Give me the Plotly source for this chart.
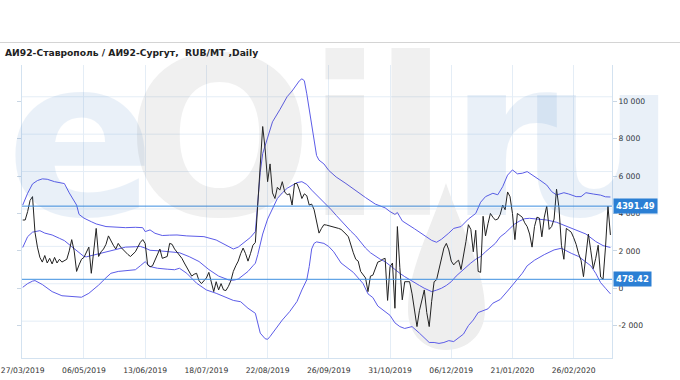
import pandas as pd
import plotly.graph_objects as go

title = "АИ92-Ставрополь / АИ92-Сургут,  RUB/MT ,Daily"

# price (black line), one value per trading day starting 27/03/2019
price = [3650, 3650, 4100, 4700, 4900, 3000, 2200, 1650, 1400, 1750,
         1350, 1600, 1300, 1650, 1350, 1550, 1400, 1500, 1550, 2000,
         2600, 2000, 900, 1250, 1550, 1650, 1950, 2200, 800, 1900,
         3200, 1700, 1950, 2100, 2350, 2800, 2500, 2300, 2100, 2400,
         2200, 2050, 1950, 1800, 1700, 1850, 1950, 2200, 2450, 2600,
         2400, 1250, 1150, 1200, 1500, 1900, 2100, 1600, 1650, 1700,
         2400, 2350, 2100, 1950, 1800, 1600, 1350, 1100, 850, 650,
         750, 800, 400, 250, 400, 550, 850, 350, -180, 350,
         -90, 250, -90, -120, 100, 400, 900, 1200, 1450, 1850,
         2150, 1850, 1450, 1850, 2300, 2450, 4350, 6800, 8650, 7450,
         5700, 6650, 5100, 4800, 5400, 5250, 5700, 5150, 5000, 5050,
         4450, 5600, 5600, 5250, 4800, 5050, 4950, 4450, 4500, 4200,
         3550, 2950, 3200, 3400, 3380, 3350, 3300, 3300, 3250, 3200,
         3150, 3050, 2900, 2750, 2250, 1900, 1550, 1450, 900, 750,
         550, -180, 650, 700, 1100, 1400, 1450, 1550, 1600, -650,
         1150, 1350, -1070, 3300, 1100, -620, 350, 350, 350, -300,
         -1160, -2050, -1200, -620, -90, -1300, -2050, -700, 350, 450,
         1000, 1600, 2150, 2400, 2050, 1450, 1250, 1400, 1500, 1000,
         1650, 2500, 3400, 3150, 1950, 3100, 900, 850, 3850, 2800,
         3450, 4000, 3800, 3650, 3700, 3950, 4450, 4200, 5150, 4900,
         4000, 2600, 4000, 3900, 3800, 3500, 3300, 2900, 2200, 3300,
         3800, 3750, 2750, 3800, 4400, 3150, 3300, 3700, 5300, 4300,
         2300, 1550, 3200, 3100, 3000, 2700, 2350, 1850, 1500, 620,
         1850, 2900, 2000, 1050, 1600, 2300, 600, 478.42, 2200, 4391.49,
         2850]

# bands, read at sampled trading-day numbers
upper_idx = [0, 2, 4, 6, 8, 10, 13, 16, 17, 19, 20, 22, 23, 25, 28, 30, 34, 38, 42, 46,
             49, 50, 52, 54, 57, 60, 63, 67, 74, 79, 83, 86, 88, 90, 93, 95, 96, 97, 98, 100,
             102, 105, 108, 110, 113, 114, 115, 116, 117, 118, 119, 120, 121, 123, 125, 128, 132, 136, 140, 144,
             148, 150, 152, 153, 155, 160, 164, 167, 169, 171, 174, 176, 179, 182, 185, 187, 189, 192, 194, 196,
             198, 200, 202, 204, 206, 208, 211, 214, 216, 218, 220, 221, 223, 226, 228, 230, 233, 236, 238, 240]
upper = [4450, 5080, 5580, 5760, 5850, 5830, 5700, 5650, 5600, 5100, 4900, 4450, 3950, 3750, 3560, 3440, 3300, 3260, 3240, 3260,
         3240, 3030, 3120, 2940, 2820, 2840, 2850, 2800, 2760, 2580, 2320, 2100, 2200, 2420, 2720, 3030, 4600, 6200, 7200, 8100,
         8900, 9550, 10250, 10550, 11100, 11200, 11100, 10400, 9600, 8600, 7800, 7100, 6850, 6650, 6300, 5950, 5600, 5200, 4850, 4500,
         4300, 4100, 3950, 4050, 3600, 3180, 2800, 2560, 2460, 2620, 2950, 3200, 3300, 3700, 4000, 4600, 4900, 5080, 5000, 5430,
         6050, 6330, 6120, 6150, 6240, 6080, 5800, 5520, 5170, 4990, 5080, 5110, 5040, 4900, 4900, 5110, 5040, 4980, 4890, 4880]

middle_idx = [0, 2, 4, 7, 9, 12, 15, 17, 20, 23, 25, 26, 29, 32, 35, 38, 42, 46, 48, 50,
              52, 56, 59, 62, 64, 68, 72, 76, 80, 84, 86, 88, 90, 92, 94, 95, 96, 98, 100, 102,
              104, 106, 108, 110, 112, 114, 116, 118, 120, 122, 124, 126, 128, 130, 132, 134, 136, 138, 140, 142,
              144, 146, 148, 150, 152, 154, 156, 158, 160, 162, 164, 166, 167, 169, 171, 173, 175, 177, 179, 181,
              183, 185, 187, 189, 191, 193, 195, 197, 199, 201, 203, 205, 207, 210, 214, 218, 222, 226, 230, 234,
              237, 240]
middle = [2180, 2760, 3000, 3080, 2950, 2850, 2670, 2550, 2225, 1900, 1700, 1680, 1780, 1880, 2000, 2100, 2200, 2220, 2240, 2150,
          2030, 2000, 1950, 1920, 1900, 1690, 1430, 1000, 650, 450, 430, 490, 700, 900, 1200, 1340, 1800, 2900, 3700, 4300,
          4800, 5100, 5350, 5500, 5650, 5700, 5550, 5250, 5000, 4750, 4500, 4200, 3900, 3600, 3350, 3050, 2800, 2450, 2150, 1900,
          1700, 1550, 1420, 1200, 980, 800, 620, 450, 290, 150, 0, -150, -180, -100, 0, 150, 350, 650, 900, 1150,
          1350, 1550, 1700, 1950, 2150, 2400, 2750, 2950, 3200, 3450, 3600, 3720, 3740, 3700, 3650, 3530, 3320, 3120, 2900, 2500,
          2280, 2180]

lower_idx = [0, 2, 4, 5, 8, 12, 16, 20, 24, 27, 31, 34, 36, 39, 43, 46, 48, 50, 52, 55,
             59, 62, 64, 67, 71, 75, 79, 82, 86, 89, 92, 95, 96, 97, 99, 100, 101, 104, 106, 109,
             112, 114, 116, 117, 118, 119, 120, 123, 125, 127, 130, 132, 135, 137, 139, 141, 143, 145, 147, 150,
             152, 154, 156, 159, 162, 164, 166, 168, 170, 172, 174, 176, 178, 180, 182, 184, 186, 188, 190, 192,
             195, 198, 201, 204, 206, 209, 213, 217, 220, 222, 224, 227, 229, 232, 234, 236, 238, 240]
lower = [50, 250, 380, 410, 200, -180, -400, -420, -480, -270, 170, 560, 800, 900, 950, 990, 1200, 1420, 1160, 1070,
         1020, 990, 1070, 800, 270, -90, -270, -450, -650, -720, -1070, -1340, -1870, -2400, -2700, -2730, -2580, -2050, -1700, -1250,
         -710, -90, 450, 1160, 2100, 2400, 2480, 2400, 2230, 1950, 1350, 1150, 850, 550, 250, -300, -500, -950, -1150, -1450,
         -1850, -2050, -2150, -2050, -2400, -2650, -2900, -2900, -2950, -2900, -2800, -2850, -2650, -2450, -2000, -1700, -1300, -1200, -1100, -800,
         -600, -150, 350, 800, 1200, 1500, 1800, 2050, 2140, 2000, 1870, 1700, 1500, 1200, 800, 300, 0, -300]

levels = [4391.49, 478.42]
y_ticks = [-2000, 0, 2000, 4000, 6000, 8000, 10000]
tick_every = 25

holidays = ["2019-05-01", "2019-05-02", "2019-05-03", "2019-05-09", "2019-05-10",
            "2019-06-12", "2019-11-04", "2019-12-31", "2020-01-01", "2020-01-02",
            "2020-01-03", "2020-01-06", "2020-01-07", "2020-01-08", "2020-02-24",
            "2020-03-09"]

days = [d for d in pd.bdate_range("2019-03-27", "2020-06-30")
        if d.strftime("%Y-%m-%d") not in holidays][:len(price)]
dates = [d.strftime("%Y-%m-%d") for d in days]

# ---- layout geometry (pixels) ----
W, H = 680, 380
L, R, T, B = 22, 68, 65, 22
PW, PH = W - L - R, H - T - B
Y_RANGE = [-3730, 11940]


def px(x):
    return (x - L) / PW


def py(y):
    return (H - B - y) / PH


BAND = "rgb(92,92,232)"
LEVEL = "#3d8fe0"
BOX = "#2b7fd4"
GRID = "#e4edf6"
FRAME = "#d3e2f0"
TXT = "#333333"
FONT = "DejaVu Sans"

fig = go.Figure()

for idx, vals in [(upper_idx, upper), (middle_idx, middle), (lower_idx, lower)]:
    fig.add_trace(go.Scatter(x=[dates[i] for i in idx], y=vals, mode="lines",
                             line=dict(color=BAND, width=1), hoverinfo="skip",
                             showlegend=False))

fig.add_trace(go.Scatter(x=dates, y=price, mode="lines",
                         line=dict(color="rgb(34,34,34)", width=1),
                         showlegend=False))

shapes = []
annotations = []

# horizontal grid: drawn a few pixels above each tick, as in the source chart
units_per_px = (Y_RANGE[1] - Y_RANGE[0]) / PH
for t in y_ticks + [12000]:
    g = t + 4.5 * units_per_px
    if g < Y_RANGE[1]:
        shapes.append(dict(type="line", xref="paper", yref="y", x0=0, x1=1, y0=g, y1=g,
                           layer="below", line=dict(color=GRID, width=1)))

# watermark "eOil.ru" (faint letters + oil drop)
WM_BLUE = "rgb(30,105,190)"
WM_GRAY = "rgb(97,97,97)"
for ch, x_left, col in [("e", 4, WM_BLUE), ("O", 124, WM_GRAY), ("i", 305, WM_GRAY),
                        ("l", 371, WM_GRAY), ("r", 447, WM_BLUE), ("u", 518, WM_BLUE)]:
    annotations.append(dict(xref="paper", yref="paper", x=px(x_left), y=py(139),
                            xanchor="left", yanchor="middle", text="<b>%s</b>" % ch,
                            showarrow=False, opacity=0.09,
                            font=dict(family="DejaVu Sans", size=220, color=col)))

drop = [(446, 183), (430, 230), (408, 270), (408, 310), (408, 335), (425, 350), (446, 350),
        (467, 350), (485, 335), (485, 310), (485, 270), (462, 230), (446, 183)]
pts = [(px(a), py(b)) for a, b in drop]
path = "M %.4f,%.4f " % pts[0]
for k in range(1, len(pts), 3):
    path += "C %.4f,%.4f %.4f,%.4f %.4f,%.4f " % (pts[k] + pts[k + 1] + pts[k + 2])
path += "Z"
shapes.append(dict(type="path", xref="paper", yref="paper", path=path, layer="below",
                   fillcolor="rgb(238,238,238)", line=dict(width=0)))

for v in levels:
    shapes.append(dict(type="line", xref="paper", yref="y", x0=0, x1=1, y0=v, y1=v,
                       line=dict(color=LEVEL, width=1)))
    annotations.append(dict(xref="paper", yref="y", x=1.0015, y=v, xanchor="left",
                            yanchor="middle", text="<b>%.2f</b>" % v, showarrow=False,
                            bgcolor=BOX, borderpad=2,
                            font=dict(family=FONT, size=8.5, color="white")))

# header separator
shapes.append(dict(type="line", xref="paper", yref="paper", x0=px(0), x1=px(W),
                   y0=py(42.5), y1=py(42.5), line=dict(color="#d4d4d4", width=1)))

annotations.append(dict(xref="paper", yref="paper", x=px(3), y=py(52), xanchor="left",
                        yanchor="middle", text="<b>%s</b>" % title, showarrow=False,
                        font=dict(family=FONT, size=9.2, color="#222222")))

fig.update_layout(
    width=W, height=H, margin=dict(l=L, r=R, t=T, b=B, autoexpand=False),
    paper_bgcolor="white", plot_bgcolor="white",
    shapes=shapes, annotations=annotations, showlegend=False,
    xaxis=dict(type="category", categoryorder="array", categoryarray=dates,
               range=[-0.3, len(dates) - 0.35], automargin=False,
               tickvals=dates[::tick_every],
               ticktext=[d.strftime("%d/%m/%Y") for d in days[::tick_every]],
               showgrid=True, gridcolor=GRID, gridwidth=1,
               showline=True, linecolor=FRAME, ticks="", zeroline=False,
               ticklabelstandoff=5,
               tickfont=dict(family=FONT, size=7.6, color=TXT)),
    yaxis=dict(side="right", range=Y_RANGE, tickvals=y_ticks, automargin=False,
               ticktext=["{:,}".format(t).replace(",", " ") for t in y_ticks],
               showgrid=False, zeroline=False,
               showline=True, linecolor=FRAME, mirror="ticks",
               ticks="outside", ticklen=4, tickcolor="#c9d6e3",
               tickfont=dict(family=FONT, size=7.6, color=TXT)),
)

fig.write_html("out.html")
